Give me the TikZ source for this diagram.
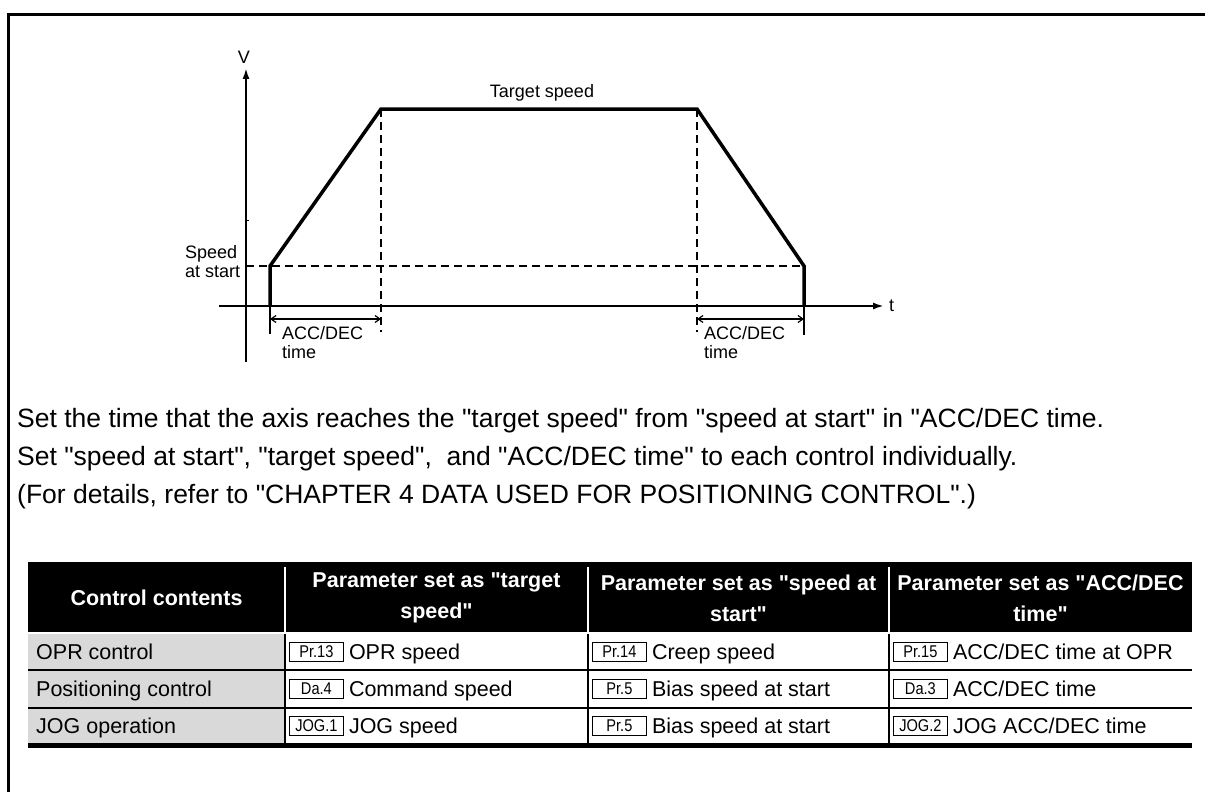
\documentclass[tikz,border=0pt]{standalone}
\usepackage{fontspec}
\setmainfont{Liberation Sans}[Ligatures=TeXOff]
\newfontfamily\boxfont{Liberation Sans}[Ligatures=TeXOff,FakeStretch=0.86]
\usetikzlibrary{arrows.meta}
\definecolor{cellgray}{RGB}{217,217,217}
\begin{document}
\begin{tikzpicture}[x=1pt,y=-1pt,
  frameline/.style={line width=3pt},
  axisline/.style={line width=2pt,-{Latex[length=11pt,width=7pt]}},
  curveline/.style={line width=3.5pt,line join=miter},
  guide/.style={line width=1.5pt,dash pattern=on 8pt off 5pt},
  tickline/.style={line width=1.5pt},
  spanline/.style={line width=1.2pt,{Straight Barb[length=5pt,width=7pt]}-{Straight Barb[length=5pt,width=7pt]}},
  lbl/.style={font=\fontsize{18}{19}\selectfont,inner sep=0pt},
  bodytext/.style={font=\fontsize{26.5}{30}\selectfont,anchor=base west,inner sep=0pt},
  celltext/.style={font=\fontsize{21.5}{24}\selectfont,anchor=base west,inner sep=0pt},
  headtext/.style={font=\bfseries\fontsize{21.5}{31}\selectfont,text=white,align=center,inner sep=0pt},
  prbox/.style={draw,line width=0.8pt,minimum width=54pt,minimum height=19pt,inner sep=0pt,font=\boxfont\fontsize{17}{17}\selectfont,anchor=west},
  rowline/.style={line width=2pt},
  whitesep/.style={white,line width=2pt}
]
\useasboundingbox (0,0) rectangle (1205,792);
% frame
\coordinate (f1) at (8.5,792);
\coordinate (f2) at (8.5,14.5);
\coordinate (f3) at (1205,14.5);
\draw[frameline] (f1) -- (f2) -- (f3);

% graph coordinates
\coordinate (vbot) at (246,362);
\coordinate (vtop) at (246,68);
\coordinate (tl) at (219,306);
\coordinate (tr) at (884,306);
\coordinate (s0) at (270,306);
\coordinate (s1) at (270,266);
\coordinate (a1) at (381,109);
\coordinate (d1) at (697,109);
\coordinate (e1) at (804,266);
\coordinate (e0) at (804,306);
\coordinate (sv) at (246,266);
\coordinate (a1b) at (381,332);
\coordinate (d1b) at (697,332);
\coordinate (s0b) at (270,334);
\coordinate (e0b) at (804,335);
\coordinate (m1l) at (270,319);
\coordinate (m1r) at (381,319);
\coordinate (m2l) at (697,319);
\coordinate (m2r) at (804,319);
\coordinate (vk1) at (246,220);
\coordinate (vk2) at (249,220);

\draw[guide] (sv) -- (e1);
\draw[guide] (a1) -- (a1b);
\draw[guide] (d1) -- (d1b);
\draw[axisline] (vbot) -- (vtop);
\draw[axisline] (tl) -- (tr);
\draw[line width=0.6pt] (vk1) -- (vk2);
\draw[curveline] (s0) -- (s1) -- (a1) -- (d1) -- (e1) -- (e0);
\draw[tickline] (s0) -- (s0b);
\draw[tickline] (e0) -- (e0b);
\draw[spanline] (m1l) -- (m1r);
\draw[spanline] (m2l) -- (m2r);

\node[lbl] (vlabel) at (244,57) {V};
\node[lbl,anchor=west] (tlabel) at (889,306) {t};
\node[lbl] (target) at (542,93) {Target speed};
\node[lbl,anchor=west,align=left] (sstart) at (185,262) {Speed\\at start};
\node[lbl,anchor=west,align=left] (acc1) at (282,343) {ACC/DEC\\time};
\node[lbl,anchor=west,align=left] (acc2) at (704,343) {ACC/DEC\\time};

% body text (baselines)
\node[bodytext] (p1) at (17,427.5) {Set the time that the axis reaches the "target speed" from "speed at start" in "ACC/DEC time.};
\node[bodytext] (p2) at (17,465.5) {Set "speed at start", "target speed",\ \ and "ACC/DEC time" to each control individually.};
\node[bodytext] (p3) at (17,503.5) {(For details, refer to "CHAPTER 4 DATA USED FOR POSITIONING CONTROL".)};

% table
\fill[black] (28,562) rectangle (1192,632);
\fill[cellgray] (28,634) rectangle (285,744);
\draw[whitesep] (285,567) -- (285,632);
\draw[whitesep] (588,567) -- (588,632);
\draw[whitesep] (889,567) -- (889,632);
\draw[rowline] (285,634) -- (285,744);
\draw[rowline] (588,634) -- (588,744);
\draw[rowline] (889,634) -- (889,744);
\draw[rowline] (28,670) -- (1192,670);
\draw[rowline] (28,708) -- (1192,708);
\draw[line width=5pt] (28,745.5) -- (1192,745.5);

\node[headtext] (h1) at (156.5,598) {Control contents};
\node[headtext] (h2) at (436.5,598) {Parameter set as "target\\speed"};
\node[headtext] (h3) at (738.5,598) {Parameter set as "speed at\\start"};
\node[headtext] (h4) at (1040.5,598) {Parameter set as "ACC/DEC\\time"};

\node[celltext] (r1) at (36,659.7) {OPR control};
\node[celltext] (r2) at (36,696.7) {Positioning control};
\node[celltext] (r3) at (36,733.7) {JOG operation};

\node[prbox] (b12) at (289,652) {Pr.13};
\node[celltext] (c12) at ([xshift=5pt,yshift=-7.7pt]b12.east) {OPR speed};
\node[prbox] (b13) at (592,652) {Pr.14};
\node[celltext] (c13) at ([xshift=5pt,yshift=-7.7pt]b13.east) {Creep speed};
\node[prbox] (b14) at (893,652) {Pr.15};
\node[celltext] (c14) at ([xshift=5pt,yshift=-7.7pt]b14.east) {ACC/DEC time at OPR};

\node[prbox] (b22) at (289,689) {Da.4};
\node[celltext] (c22) at ([xshift=5pt,yshift=-7.7pt]b22.east) {Command speed};
\node[prbox] (b23) at (592,689) {Pr.5};
\node[celltext] (c23) at ([xshift=5pt,yshift=-7.7pt]b23.east) {Bias speed at start};
\node[prbox] (b24) at (893,689) {Da.3};
\node[celltext] (c24) at ([xshift=5pt,yshift=-7.7pt]b24.east) {ACC/DEC time};

\node[prbox] (b32) at (289,726) {JOG.1};
\node[celltext] (c32) at ([xshift=5pt,yshift=-7.7pt]b32.east) {JOG speed};
\node[prbox] (b33) at (592,726) {Pr.5};
\node[celltext] (c33) at ([xshift=5pt,yshift=-7.7pt]b33.east) {Bias speed at start};
\node[prbox] (b34) at (893,726) {JOG.2};
\node[celltext] (c34) at ([xshift=5pt,yshift=-7.7pt]b34.east) {JOG ACC/DEC time};
\end{tikzpicture}
\end{document}
